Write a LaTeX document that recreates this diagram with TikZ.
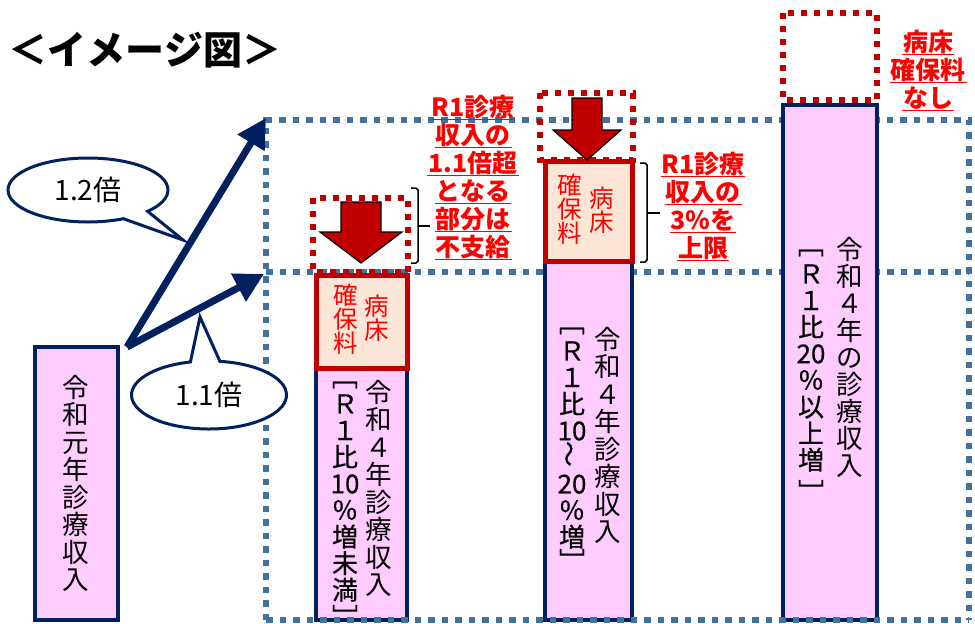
\documentclass[tikz,border=0pt]{standalone}
\usepackage{fontspec}
\usepackage{graphicx}
\newfontfamily\jp{Noto Sans CJK JP}
\newfontfamily\jpm[FakeBold=0.6]{Noto Sans CJK JP}
\usetikzlibrary{arrows.meta,shapes.callouts}
\definecolor{navy}{HTML}{002060}
\definecolor{gridblue}{HTML}{41719C}
\definecolor{dred}{HTML}{C00000}
\definecolor{pinkfill}{HTML}{FFCCFF}
\definecolor{peach}{HTML}{FBE5D6}
\definecolor{lred}{HTML}{FF0000}
\newcommand\vtl{\rotatebox{90}{～}}
\newcommand\redul[1]{\setbox0=\hbox{#1}\leavevmode\rlap{\kern-1pt\rule[-3.5pt]{\dimexpr\wd0+2pt\relax}{1.8pt}}\box0}
\tikzset{
  gridline/.style={gridblue, line width=6pt, dash pattern=on 6.5pt off 7pt},
  reddots/.style={dred, line width=6pt, dash pattern=on 6pt off 7pt},
  pinkbox/.style={draw=navy, fill=pinkfill, line width=4pt, rectangle, inner sep=0pt},
  bedbox/.style={draw=dred, fill=peach, line width=5pt, rectangle, inner sep=0pt},
  vcol/.style={anchor=north, align=center, inner sep=0pt, font=\jp\fontsize{26.5}{27.5}\selectfont},
  vcolb/.style={anchor=center, align=center, inner sep=0pt, font=\jpm\fontsize{26}{26.6}\selectfont},
  vbrk/.style={anchor=center, inner sep=0pt, font=\jpm\fontsize{26}{26}\selectfont},
  bedtxt/.style={anchor=north, align=center, inner sep=0pt, text=lred, font=\jp\fontsize{24.5}{24}\selectfont},
  redlabel/.style={align=center, inner sep=0pt, text=lred, font=\jp\bfseries\fontsize{25}{28}\selectfont},
  bigarrow/.style={navy, line width=7pt, -{Triangle[length=29pt,width=30pt]}},
  downarrow/.style={fill=dred, draw=black, line width=1.2pt, line join=miter},
  callbubble/.style={ellipse callout, draw=navy, fill=white, line width=3pt, callout pointer arc=22, font=\jp\fontsize{28}{28}\selectfont},
  brace/.style={black, line width=1.5pt}
}
\begin{document}
\lineskiplimit=-100pt
\lineskip=0pt
\begin{tikzpicture}[x=1pt,y=-1pt]
\useasboundingbox (0,0) rectangle (975,624);
% title
\node[font=\jp\bfseries\fontsize{39}{39}\selectfont, inner sep=0pt] (title) at (145,50) {＜イメージ図＞};
% grid
\draw[gridline] (266,272) -- (969,272);
\draw[gridline] (266,620) -- (266,120) -- (969,120) -- (969,620);
% box 1
\node[pinkbox, minimum width=83pt, minimum height=273pt] (b1) at (76.5,483.5) {};
\node[vcol] (b1t) at (76,375) {令\\和\\元\\年\\診\\療\\収\\入};
% box 2
\node[pinkbox, minimum width=91pt, minimum height=252pt] (b2) at (361.5,494) {};
\node[bedbox, minimum width=91pt, minimum height=93pt] (r2) at (361.5,321.5) {};
\node[vcol] (b2r) at (379,380) {令\\和\\４\\年\\診\\療\\収\\入};
\node[vbrk] (b2o) at (345,385) {﹇};
\node[vcolb] (b2l) at (345,498) {Ｒ\\１\\比\\10\\％\\増\\未\\満};
\node[vbrk] (b2c) at (345,616) {﹈};
\node[bedtxt] (r2r) at (377,295) {病\\床};
\node[bedtxt] (r2l) at (346,284) {確\\保\\料};
% box 3
\node[pinkbox, minimum width=87pt, minimum height=359pt] (b3) at (588.5,440.5) {};
\node[bedbox, minimum width=87pt, minimum height=100pt] (r3) at (588.5,211) {};
\node[vcol] (b3r) at (608,327) {令\\和\\４\\年\\診\\療\\収\\入};
\node[vbrk] (b3o) at (572,331) {﹇};
\node[vcolb] (b3l) at (572,445) {Ｒ\\１\\比\\10\\\vtl\\20\\％\\増};
\node[vbrk] (b3c) at (572,560) {﹈};
\node[bedtxt] (r3r) at (602,187) {病\\床};
\node[bedtxt] (r3l) at (570,174) {確\\保\\料};
% box 4
\node[pinkbox, minimum width=94pt, minimum height=515pt] (b4) at (830,362.5) {};
\node[vcol, font=\jp\fontsize{26.5}{27}\selectfont] (b4r) at (850,237) {令\\和\\４\\年\\の\\診\\療\\収\\入};
\node[vbrk] (b4o) at (811,253) {﹇};
\node[vcolb] (b4l) at (811,368) {Ｒ\\１\\比\\20\\％\\以\\上\\増};
\node[vbrk] (b4c) at (811,491) {﹈};
% bottom grid line on top
\draw[gridline] (266,620) -- (969,620);
% red dotted boxes
\draw[reddots] (313,198) rectangle (408,272);
\draw[reddots] (540,93) rectangle (633,160);
\draw[reddots] (783,13) rectangle (877,100);
% red down arrows
\draw[downarrow] (341,202) -- (381,202) -- (381,232) -- (402,232) -- (361,263) -- (320,232) -- (341,232) -- cycle;
\draw[downarrow] (572,98) -- (602,98) -- (602,130) -- (621,130) -- (587,160) -- (553,130) -- (572,130) -- cycle;
% braces
\draw[brace] (411,188) -- (416,188) -- (418,190) -- (418,261) -- (416,263) -- (411,263);
\draw[brace] (418,226) -- (430,226);
\draw[brace] (640,163) -- (645,163) -- (647,165) -- (647,260) -- (645,262) -- (640,262);
\draw[brace] (647,213) -- (660,213);
% red labels
\node[redlabel] (l1) at (473,178) {\redul{R1診療}\\\redul{収入の}\\\redul{1.1倍超}\\\redul{となる}\\\redul{部分は}\\\redul{不支給}};
\node[redlabel] (l2) at (703,207) {\redul{R1診療}\\\redul{収入の}\\\redul{3\%を}\\\redul{上限}};
\node[redlabel] (l3) at (928,71) {\redul{病床}\\\redul{確保料}\\\redul{なし}};
% arrows
\coordinate (o) at (127,347);
\coordinate (t12) at (266,118);
\coordinate (t11) at (264,274);
\draw[bigarrow] (o) -- (t12);
\draw[bigarrow] (o) -- (t11);
% callouts
\node[callbubble, minimum width=160pt, minimum height=64pt, callout absolute pointer={(183,240)}] (c12) at (88,190) {1.2倍};
\node[callbubble, minimum width=155pt, minimum height=68pt, callout absolute pointer={(200,317)}] (c11) at (209,395) {1.1倍};
\end{tikzpicture}
\end{document}
